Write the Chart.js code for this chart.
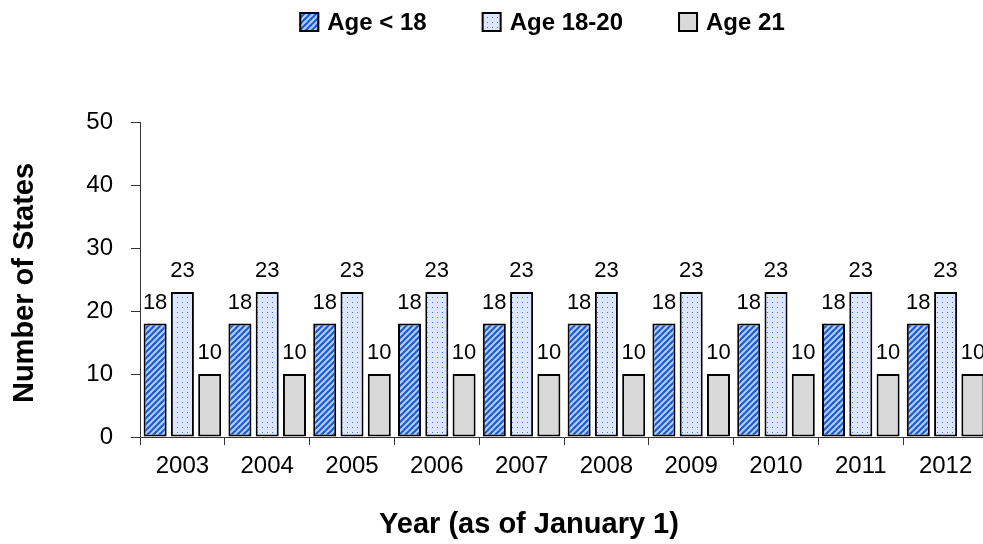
<!DOCTYPE html>
<html>
<head>
<meta charset="utf-8">
<script src="https://cdn.jsdelivr.net/npm/chart.js"></script>
<style>
  html, body { margin:0; padding:0; background:#fff; overflow:hidden; }
  canvas { display:block; }
</style>
</head>
<body>
<canvas id="graficaEstados" width="988" height="544"></canvas>
<script>
// datos
const anios = ["2003","2004","2005","2006","2007","2008","2009","2010","2011","2012"];
const menores18 = [18,18,18,18,18,18,18,18,18,18];
const edad18a20 = [23,23,23,23,23,23,23,23,23,23];
const edad21 = [10,10,10,10,10,10,10,10,10,10];
const nombresSeries = ["Age < 18", "Age 18-20", "Age 21"];
const ticksY = [0,10,20,30,40,50];

const fuente = '"Liberation Sans", Arial, sans-serif';
Chart.defaults.font.family = fuente;
Chart.defaults.color = "#000";

// rayado diagonal azul
function patronRayas() {
  const c = document.createElement("canvas");
  c.width = 6; c.height = 6;
  const g = c.getContext("2d");
  g.fillStyle = "#b4ceff";
  g.fillRect(0,0,6,6);
  g.strokeStyle = "#1a5cd2";
  g.lineWidth = 2.2;
  for (let k = -1; k <= 1; k++) {
    g.beginPath();
    g.moveTo(-1, 6 + k*6 + 1);
    g.lineTo(7, k*6 - 1);
    g.stroke();
  }
  return g.createPattern(c, "repeat");
}

// punteado azul claro
function patronPuntos() {
  const c = document.createElement("canvas");
  c.width = 5; c.height = 5;
  const g = c.getContext("2d");
  g.fillStyle = "#dce6ff";
  g.fillRect(0,0,5,5);
  g.fillStyle = "#3f74ea";
  g.fillRect(2,2,1,1);
  return g.createPattern(c, "repeat");
}

const rellenos = [patronRayas(), patronPuntos(), "#d9d9d9"];

const etiquetasValores = {
  id: "etiquetasValores",
  afterDatasetsDraw(chart) {
    const ctx = chart.ctx;
    ctx.save();
    ctx.font = "22px " + fuente;
    ctx.fillStyle = "#000";
    ctx.textAlign = "center";
    ctx.textBaseline = "alphabetic";
    chart.data.datasets.forEach((ds, i) => {
      chart.getDatasetMeta(i).data.forEach((bar, j) => {
        ctx.fillText(String(ds.data[j]), bar.x, bar.y - 15);
      });
    });
    ctx.restore();
  }
};

// leyenda y titulos de ejes
const decoracion = {
  id: "decoracion",
  afterDraw(chart) {
    const ctx = chart.ctx;
    ctx.save();

    ctx.font = "bold 24px " + fuente;
    const caja = 20, sep = 8, hueco = 55;
    const anchos = nombresSeries.map(n => ctx.measureText(n).width);
    const total = anchos.reduce((a, w) => a + caja + sep + w, 0) + hueco * (nombresSeries.length - 1);
    let x = 542 - total / 2;
    const yc = 22;
    nombresSeries.forEach((n, i) => {
      ctx.fillStyle = rellenos[i];
      ctx.fillRect(x, yc - caja/2, caja, caja);
      ctx.lineWidth = 2;
      ctx.strokeStyle = "#000";
      ctx.strokeRect(x + 1, yc - caja/2 + 1, caja - 2, caja - 2);
      ctx.fillStyle = "#000";
      ctx.textAlign = "left";
      ctx.textBaseline = "middle";
      ctx.fillText(n, x + caja + sep, yc + 1);
      x += caja + sep + anchos[i] + hueco;
    });

    ctx.font = "bold 29px " + fuente;
    ctx.fillStyle = "#000";
    ctx.textAlign = "center";
    ctx.textBaseline = "alphabetic";
    ctx.fillText("Year (as of January 1)", 529, 533);

    ctx.translate(33, 283);
    ctx.rotate(-Math.PI / 2);
    ctx.fillText("Number of States", 0, 0);
    ctx.restore();
  }
};

new Chart(document.getElementById("graficaEstados"), {
  type: "bar",
  data: {
    labels: anios,
    datasets: [menores18, edad18a20, edad21].map((d, i) => ({
      label: nombresSeries[i],
      data: d,
      backgroundColor: rellenos[i],
      borderColor: "#000",
      borderWidth: 2,
      borderSkipped: false,
      categoryPercentage: 0.965,
      barPercentage: 0.844
    }))
  },
  options: {
    responsive: false,
    animation: false,
    layout: { padding: { top: 122, left: 0, right: 0, bottom: 0 } },
    plugins: { legend: { display: false }, tooltip: { enabled: false } },
    scales: {
      x: {
        ticks: { color: "#000", font: { size: 24 }, padding: 7, maxRotation: 0, autoSkip: false },
        grid: { drawOnChartArea: false, drawTicks: true, tickLength: 8, color: "#333", offset: true },
        border: { color: "#333", width: 1 },
        afterFit: s => { s.height = 107; }
      },
      y: {
        min: ticksY[0],
        max: ticksY[ticksY.length - 1],
        afterBuildTicks: s => { s.ticks = ticksY.map(v => ({ value: v })); },
        ticks: { color: "#000", font: { size: 24 }, padding: 18 },
        grid: { drawOnChartArea: false, drawTicks: true, tickLength: 9, color: "#333" },
        border: { color: "#333", width: 1 },
        afterFit: s => { s.width = 140; }
      }
    }
  },
  plugins: [etiquetasValores, decoracion]
});
</script>
</body>
</html>
